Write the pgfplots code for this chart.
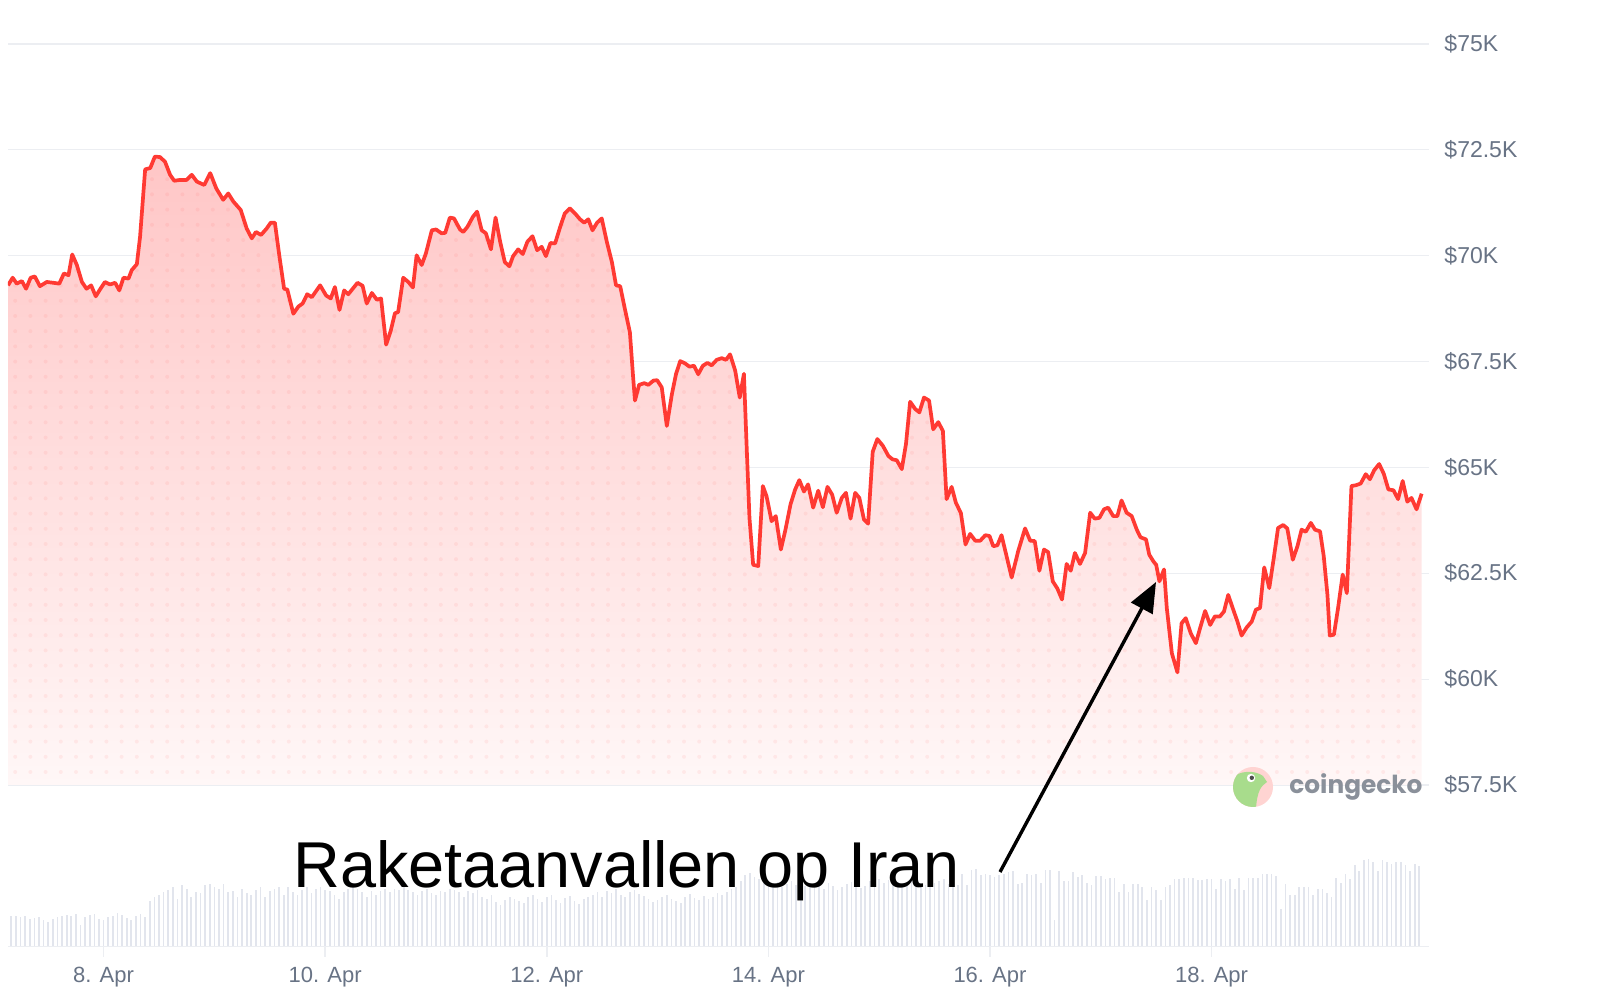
\documentclass[border=0pt]{standalone}
\usepackage{fontspec}
\setmainfont{Liberation Sans}
\newfontfamily\logofont{Poppins}
\usepackage{pgfplots}
\pgfplotsset{compat=1.18}
\usepackage{pgfplotstable}
\usetikzlibrary{arrows.meta,patterns.meta}

\definecolor{priceRed}{HTML}{FF3A33}
\definecolor{fillTop}{HTML}{FFC6C6}
\definecolor{fillBottom}{HTML}{FFF7F7}
\definecolor{gridGray}{HTML}{ECEEF2}
\definecolor{tickGray}{HTML}{687385}
\definecolor{volGray}{HTML}{E2E5ED}
\definecolor{logoGray}{HTML}{8A909A}
\definecolor{geckoGreen}{HTML}{A8DC8C}
\definecolor{geckoPink}{HTML}{FFD4D2}

% sparse dot texture inside the price area
\tikzdeclarepattern{
  name=softdots,
  type=uncolored,
  bounding box={(-3.8pt,-3.8pt) and (3.8pt,3.8pt)},
  tile size={(7.6pt,7.6pt)},
  code={\fill (0pt,0pt) circle (1pt);}
}

% BTC price, hours since 7 Apr 00:00
\pgfplotstableread{
h p
3.3 69300
4.3 69480
5.2 69340
6.3 69400
7.2 69220
8.2 69480
9.1 69510
10.2 69280
11.7 69380
13.1 69360
14.4 69340
15.4 69580
16.4 69540
17.2 70030
18.2 69780
19.3 69380
20.3 69220
21.3 69300
22.3 69040
23.2 69200
24.3 69380
25.4 69320
26.5 69360
27.4 69180
28.3 69480
29.4 69460
30.1 69660
31.2 69800
31.9 70450
33.0 72040
34.1 72070
35.1 72340
36.2 72330
37.3 72220
38.4 71910
39.3 71770
40.6 71790
42.0 71790
43.1 71910
44.2 71750
45.8 71670
47.1 71950
48.4 71590
49.9 71320
51.0 71470
52.1 71280
53.7 71080
55.0 70640
56.1 70410
57.0 70560
58.1 70490
59.3 70640
60.2 70780
61.1 70780
62.1 69970
63.1 69220
63.8 69200
65.1 68630
66.2 68800
67.1 68870
68.1 69090
69.1 69020
70.9 69300
72.2 69060
73.2 68990
74.1 69260
75.1 68720
76.1 69180
77.0 69090
79.0 69360
80.1 69290
81.0 68870
82.1 69120
83.2 68960
84.1 68990
85.2 67900
86.2 68230
87.1 68640
87.8 68670
88.9 69480
90.0 69380
91.0 69250
91.8 70010
92.9 69780
93.8 70050
95.1 70600
96.0 70620
97.2 70530
98.0 70540
99.0 70900
99.9 70880
101.2 70620
101.9 70560
102.8 70680
104.0 70920
104.9 71040
105.9 70600
106.8 70530
107.9 70150
108.9 70900
109.9 70330
110.9 69850
111.9 69750
112.7 69990
113.8 70150
114.8 70040
115.8 70330
116.9 70460
117.9 70130
118.9 70210
119.8 69990
120.8 70300
121.8 70290
122.9 70680
123.9 71000
125.0 71120
126.1 71000
127.2 70860
128.1 70780
129.0 70860
129.9 70600
130.9 70780
131.9 70880
133.0 70330
134.1 69850
135.0 69300
135.9 69280
136.9 68750
138.0 68190
138.7 67130
139.1 66580
140.0 66950
141.1 66990
142.0 66950
143.1 67050
143.9 67060
144.9 66890
146.0 65980
147.1 66730
148.0 67210
148.9 67510
149.9 67460
150.9 67380
151.9 67400
152.8 67200
153.8 67400
154.8 67470
155.7 67410
156.8 67540
157.9 67580
158.8 67540
159.7 67670
160.8 67290
161.8 66650
162.7 67210
163.3 65470
163.9 63810
164.7 62700
165.8 62670
166.8 64560
167.6 64320
168.7 63730
169.6 63850
170.7 63060
171.7 63530
172.8 64130
173.8 64480
174.7 64700
175.7 64430
176.6 64600
177.7 64050
178.8 64450
179.8 64060
180.8 64540
181.8 64360
182.8 63930
183.9 64280
184.8 64400
185.8 63790
186.8 64400
187.7 64280
188.7 63770
189.6 63670
190.6 65370
191.6 65670
192.8 65510
194.0 65270
194.9 65190
195.8 65170
196.9 64960
197.8 65550
198.7 66550
199.8 66380
200.7 66300
201.7 66650
202.8 66580
203.7 65900
204.8 66070
205.8 65860
206.6 64250
207.7 64540
208.6 64170
209.7 63920
210.7 63180
211.7 63430
212.8 63270
213.9 63270
215.0 63400
215.9 63380
216.7 63140
217.6 63160
218.5 63400
219.6 62900
220.7 62400
222.1 63020
223.6 63560
224.7 63270
225.7 63260
226.7 62560
227.7 63060
228.6 63000
229.6 62310
230.6 62140
231.6 61880
232.6 62720
233.5 62560
234.4 62980
235.5 62720
236.6 62980
237.7 63930
238.7 63790
239.7 63810
240.7 64010
241.6 64050
242.7 63850
243.6 63850
244.5 64220
245.6 63930
246.7 63850
247.8 63530
248.6 63350
249.8 63300
250.5 62940
251.4 62780
252.0 62700
252.7 62310
253.7 62590
254.3 61680
255.4 60610
256.6 60160
257.5 61320
258.4 61440
259.5 61080
260.6 60850
261.5 61200
262.6 61610
263.7 61280
264.7 61480
265.8 61480
266.7 61600
267.6 61990
268.7 61640
269.6 61360
270.5 61030
271.6 61220
272.7 61360
273.6 61640
274.5 61680
275.4 62640
276.5 62150
277.5 62880
278.4 63570
279.5 63640
280.4 63560
281.6 62820
282.6 63140
283.5 63530
284.4 63480
285.5 63690
286.4 63530
287.5 63490
288.3 62900
289.1 61990
289.6 61030
290.5 61050
291.4 61680
292.4 62470
293.3 62030
294.3 64560
295.3 64580
296.3 64620
297.4 64840
298.3 64720
299.2 64930
300.3 65080
301.3 64850
302.3 64480
303.4 64460
304.4 64250
305.4 64680
306.4 64190
307.3 64280
308.4 64010
309.5 64380
}\pricedata

\begin{document}
\begin{tikzpicture}[x=1pt,y=1pt]
\useasboundingbox (0,0) rectangle (800,500);

% ---------- price panel ----------
\begin{axis}[
  at={(4pt,107.5pt)}, anchor=south west,
  scale only axis, width=710.5pt, height=370.5pt,
  xmin=3.29, xmax=311.1, ymin=57500, ymax=75000,
  axis line style={draw=none},
  xtick=\empty,
  ytick={57500,60000,62500,65000,67500,70000,72500,75000},
  yticklabels={\$57.5K,\$60K,\$62.5K,\$65K,\$67.5K,\$70K,\$72.5K,\$75K},
  scaled y ticks=false,
  yticklabel pos=right,
  yticklabel style={anchor=west, xshift=4.2pt,
    font=\fontsize{11.5}{12}\selectfont, text=tickGray},
  major tick length=0pt,
  ymajorgrids, grid style={gridGray, line width=0.6pt},
]
% area under the price curve, closed down to the lower limit
\addplot[draw=none, top color=fillTop, bottom color=fillBottom, forget plot]
  table[x=h,y=p]{\pricedata}
  -- (axis cs:309.5,57500) -- (axis cs:3.3,57500) -- cycle;
\addplot[draw=none, pattern=softdots, pattern color=priceRed, fill opacity=0.07, forget plot]
  table[x=h,y=p]{\pricedata}
  -- (axis cs:309.5,57500) -- (axis cs:3.3,57500) -- cycle;
\addplot[priceRed, line width=1.85pt, line join=round, mark=none]
  table[x=h,y=p]{\pricedata};
\end{axis}

% ---------- volume panel ----------
\begin{axis}[
  at={(4pt,26.5pt)}, anchor=south west,
  scale only axis, width=710.5pt, height=50pt,
  xmin=3.29, xmax=311.1, ymin=0, ymax=100,
  axis line style={draw=none},
  ytick=\empty,
  xtick={24,72,120,168,216,264},
  xticklabels={8. Apr,10. Apr,12. Apr,14. Apr,16. Apr,18. Apr},
  xtick pos=bottom, tick align=outside, major tick length=5pt,
  tick style={gridGray, line width=0.8pt},
  xticklabel style={anchor=base, yshift=-12.7pt,
    font=\fontsize{11}{12}\selectfont, text=tickGray},
]
\addplot[ycomb, volGray, line width=0.85pt, mark=none] coordinates {
(4,31)(5,31)(6,30)(7,31)(8,28)(9,29)(10,30)(11,27)(12,25)(13,28)(14,30)(15,31)(16,32)(17,31)(18,33)(19,22)(20,30)(21,32)(22,33)(23,28)
(24,27)(25,30)(26,31)(27,34)(28,32)(29,29)(30,27)(31,31)(32,33)(33,30)
(34,46)(35,50)(36,52)(37,55)(38,57)(39,60)(40,48)
(41,62)(42,58)(43,50)(44,55)(45,54)(46,62)(47,63)(48,60)(49,58)(50,63)(51,55)(52,56)(53,50)(54,58)(55,54)(56,52)(57,57)(58,60)
(59,50)(60,56)(61,58)(62,60)(63,52)(64,60)(65,55)(66,52)(67,57)(68,60)(69,54)(70,58)
(71,60)(72,57)(73,56)(74,52)(75,48)(76,55)(77,58)(78,60)(79,58)(80,55)(81,50)(82,56)
(83,52)(84,56)(85,58)(86,55)(87,58)(88,57)(89,60)(90,57)(91,55)(92,52)(93,56)(94,58)
(95,54)(96,52)(97,56)(98,55)(99,58)(100,57)(101,55)(102,50)(103,56)(104,54)(105,57)
(106,50)(107,48)(108,52)(109,45)(110,42)(111,47)(112,50)(113,48)(114,46)(115,44)(116,50)(117,52)
(118,48)(119,45)(120,50)(121,52)(122,47)(123,44)(124,49)(125,51)(126,46)(127,43)(128,48)(129,50)
(130,52)(131,55)(132,50)(133,56)(134,54)(135,58)(136,52)(137,50)(138,55)(139,57)(140,53)(141,51)
(142,48)(143,45)(144,47)(145,50)(146,52)(147,48)(148,46)(149,44)(150,50)(151,53)(152,49)(153,47)
(154,51)(155,48)(156,50)(157,54)(158,52)(159,55)(160,58)(161,60)(162,66)(163,72)(164,74)(165,70)
(166,68)(167,64)(168,66)(169,62)(170,65)(171,60)(172,63)(173,66)(174,62)(175,58)(176,61)(177,64)
(178,60)(179,62)(180,58)(181,64)(182,61)(183,57)(184,60)(185,63)(186,65)(187,62)(188,59)(189,61)
(190,66)(191,70)(192,68)(193,64)(194,67)(195,62)(196,65)(197,60)(198,63)(199,66)(200,61)(201,64)
(202,62)(203,60)(204,64)(205,66)(206,68)(207,63)(208,65)
(209,62)(210,73)(211,62)(212,77)(213,78)(214,72)(215,73)(216,72)(217,70)(218,72)(219,73)(220,75)
(221,76)(222,63)(223,64)(224,73)(225,72)(226,73)(227,64)(228,77)(229,77)(230,27)(231,76)(232,66)
(233,66)(234,75)(235,70)(236,72)(237,64)(238,62)(239,71)(240,71)(241,68)(242,69)(243,69)(244,55)
(245,63)(246,55)(247,63)(248,63)(249,60)(250,47)(251,60)(252,57)(253,47)(254,60)(255,62)(256,68)
(257,68)(258,69)(259,69)(260,69)(261,67)(262,67)(263,68)(264,68)(265,58)(266,68)(267,66)(268,68)
(269,58)(270,69)(271,57)(272,69)(273,69)(274,69)(275,73)(276,73)(277,73)(278,71)(279,38)(280,63)
(281,52)(282,52)(283,60)(284,60)(285,60)(286,52)(287,58)(288,58)(289,54)(290,50)(291,69)(292,64)
(293,73)(294,68)(295,82)(296,76)(297,87)(298,88)(299,85)(300,76)(301,87)(302,85)(303,83)(304,85)
(305,85)(306,82)(307,76)(308,83)(309,81)
};
\draw[gridGray, line width=0.8pt] (axis cs:3.29,0) -- (axis cs:311.1,0);
\end{axis}

% ---------- annotation ----------
\node[anchor=base west, inner sep=0pt, font=\fontsize{32.4}{36}\selectfont]
  at (146.5,56) {Raketaanvallen op Iran};
\draw[line width=1.7pt, -{Triangle[length=15pt,width=12pt]}] (500,64) -- (578,209);

% ---------- source logo ----------
\begin{scope}[shift={(626.5,106.5)}]
  \fill[geckoPink] (0,0) circle (10);
  \begin{scope}
    \clip (0,0) circle (10);
    \fill[geckoGreen] (-11,-11) -- (-11,4) .. controls (-7,8.5) and (1,8.5) .. (5,5.5)
      -- (7,2.5) .. controls (4,0.5) and (2,-2) .. (1.5,-11) -- cycle;
  \end{scope}
  \fill[white] (-1,4.5) circle (2.1);
  \fill[black!70] (-0.6,4.6) circle (1.1);
\end{scope}
\node[anchor=west, inner sep=0pt, font=\logofont\bfseries\fontsize{12.4}{14}\selectfont,
  text=logoGray] at (644.5,106.5) {coingecko};
\end{tikzpicture}
\end{document}
